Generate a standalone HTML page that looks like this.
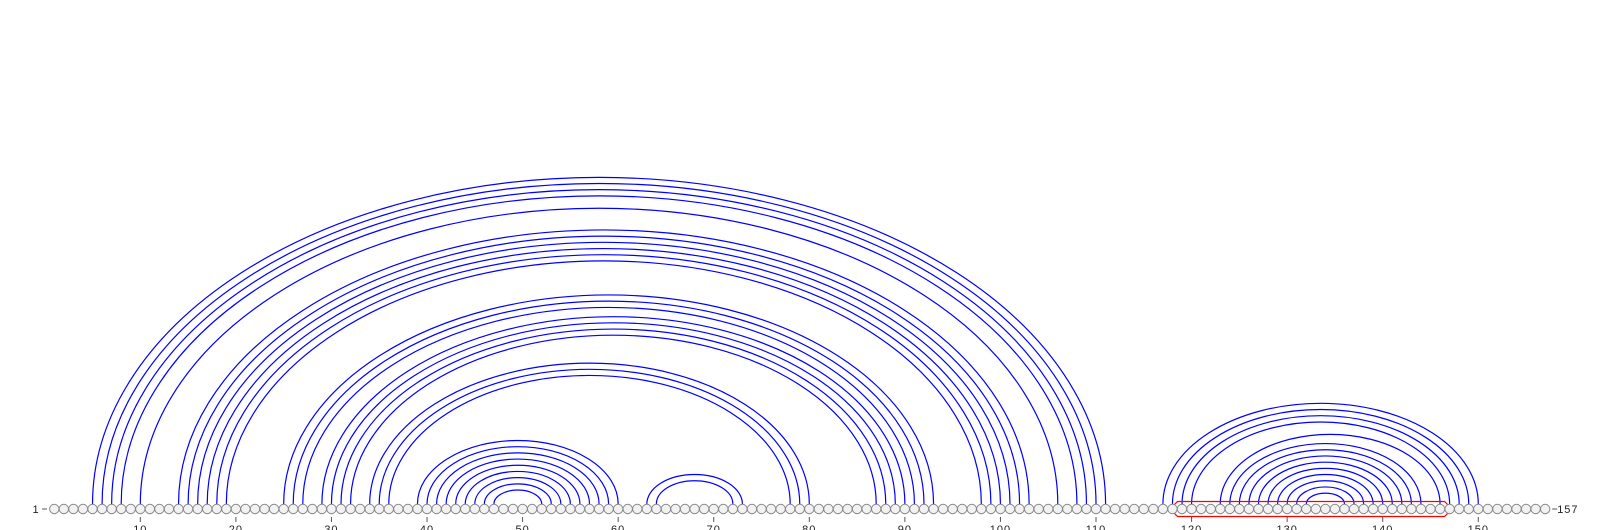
<!DOCTYPE html>
<html><head><meta charset="utf-8">
<style>
html,body{margin:0;padding:0;background:#fff;}
svg{display:block;}
text{font-family:"Liberation Sans",sans-serif;font-size:11px;fill:#222;letter-spacing:1px;}
</style></head>
<body>
<svg id="chart" width="1600" height="530" viewBox="0 0 1600 530" xmlns="http://www.w3.org/2000/svg">
<g id="arcs"></g>
<g id="highlight"></g>
<g id="nts"></g>
<g id="ticks"></g>
</svg>
<script>
const seqLength = 157;
const pairLeft  = [5,6,7,8,10, 14,15,16,17,18,19, 25,26,27,29,30,31,32, 34,35,36, 39,40,41,42,43,44,45,46,47, 63,64, 117,118,119,120, 123,124,125,126,127,128,129,130,131,132];
const pairRight = [111,110,109,108,106, 103,102,101,100,99,98, 93,92,91,90,89,88,87, 80,79,78, 60,59,58,57,56,55,54,53,52, 73,72, 150,149,148,147, 146,144,143,142,141,140,139,138,137,136];
const tickValues = [10,20,30,40,50,60,70,80,90,100,110,120,130,140,150];
const highlightRange = [119,146];

const NS = "http://www.w3.org/2000/svg";
const x = i => 54.3 + (i - 1) * 9.557;
const cy = 509, baseY = 504;

const arcs = document.getElementById('arcs');
for (let k = 0; k < pairLeft.length; k++) {
  const x1 = x(pairLeft[k]), x2 = x(pairRight[k]);
  const rx = (x2 - x1) / 2;
  const ry = Math.max(2, 0.648 * rx - 1.5);
  const p = document.createElementNS(NS, 'path');
  p.setAttribute('d', `M${x1},${baseY} A${rx},${ry} 0 0 1 ${x2},${baseY}`);
  p.setAttribute('fill', 'none');
  p.setAttribute('stroke', '#0000ff');
  p.setAttribute('stroke-width', '1.2');
  
  
  arcs.appendChild(p);
}

const hl = document.getElementById('highlight');
{
  const a = x(highlightRange[0]) - 7.5, b = x(highlightRange[1]) + 7.5;
  const t = 501.5, bt = 516.5, c = 3;
  const poly = document.createElementNS(NS, 'polygon');
  poly.setAttribute('points', `${a+c},${t} ${b-c},${t} ${b},${t+c} ${b},${bt-c} ${b-c},${bt} ${a+c},${bt} ${a},${bt-c} ${a},${t+c}`);
  poly.setAttribute('fill', 'none');
  poly.setAttribute('stroke', '#ff0000');
  poly.setAttribute('stroke-width', '1.2');
  
  
  hl.appendChild(poly);
}

const nts = document.getElementById('nts');
for (let i = 1; i <= seqLength; i++) {
  const c = document.createElementNS(NS, 'circle');
  c.setAttribute('cx', x(i));
  c.setAttribute('cy', cy);
  c.setAttribute('r', 4.7);
  c.setAttribute('fill', '#f2f2f2');
  c.setAttribute('stroke', '#888');
  c.setAttribute('stroke-width', '1');
  
  
  nts.appendChild(c);
}

const ticks = document.getElementById('ticks');
for (const v of tickValues) {
  const l = document.createElementNS(NS, 'line');
  l.setAttribute('x1', x(v)); l.setAttribute('x2', x(v));
  l.setAttribute('y1', 517); l.setAttribute('y2', 522);
  l.setAttribute('stroke', '#555');
  
  
  ticks.appendChild(l);
  const t = document.createElementNS(NS, 'text');
  t.setAttribute('x', x(v));
  t.setAttribute('y', 533);
  t.setAttribute('text-anchor', 'middle');
  t.textContent = v;
  
  
  ticks.appendChild(t);
}
const startLbl = document.createElementNS(NS, 'text');
startLbl.setAttribute('x', 36); startLbl.setAttribute('y', 513);
startLbl.setAttribute('text-anchor', 'middle');
startLbl.textContent = '1';


ticks.appendChild(startLbl);
const sd = document.createElementNS(NS, 'line');
sd.setAttribute('x1', 42); sd.setAttribute('x2', 47); sd.setAttribute('y1', 509); sd.setAttribute('y2', 509);
sd.setAttribute('stroke', '#555');


ticks.appendChild(sd);
const ed = document.createElementNS(NS, 'line');
ed.setAttribute('x1', x(seqLength) + 7); ed.setAttribute('x2', x(seqLength) + 12); ed.setAttribute('y1', 509); ed.setAttribute('y2', 509);
ed.setAttribute('stroke', '#555');


ticks.appendChild(ed);
const endLbl = document.createElementNS(NS, 'text');
endLbl.setAttribute('x', x(seqLength) + 12); endLbl.setAttribute('y', 513);
endLbl.textContent = String(seqLength);


ticks.appendChild(endLbl);
</script>
</body></html>
